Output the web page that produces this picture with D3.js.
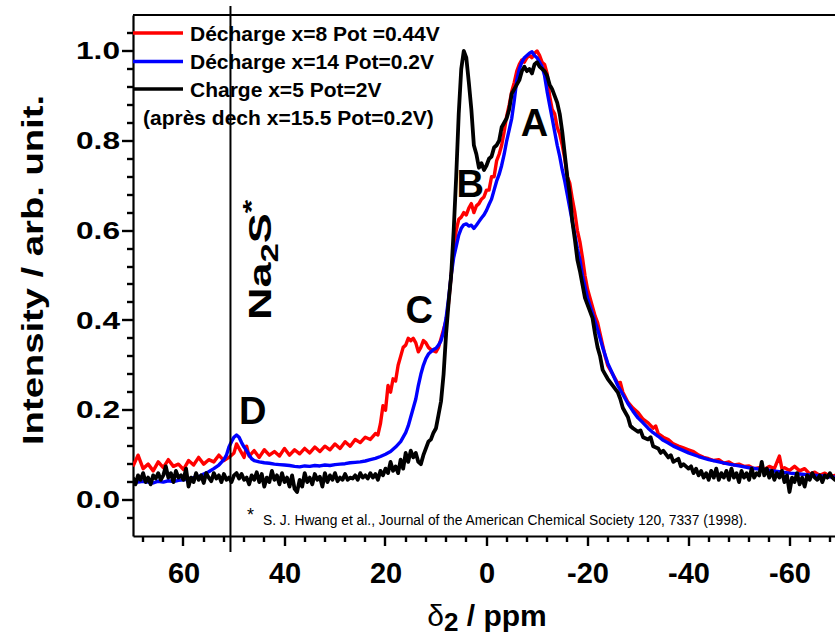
<!DOCTYPE html>
<html><head><meta charset="utf-8">
<script src="https://cdn.jsdelivr.net/npm/d3@7/dist/d3.min.js"></script>
<style>body{margin:0;background:#fff}svg{display:block}text{font-family:"Liberation Sans",Arial,sans-serif}</style>
</head><body><svg id="c" width="835" height="636"></svg>
<script>
const seriesNames = ["Décharge x=8 Pot =0.44V","Décharge x=14 Pot=0.2V","Charge x=5 Pot=2V"];
const legendExtra = "(après dech x=15.5 Pot=0.2V)";
const seriesColors = ["#ff0000","#0000ff","#000000"];
const xMajorTicks = [60,40,20,0,-20,-40,-60];
const yMajorTicks = [0,0.2,0.4,0.6,0.8,1.0];
const peakLabels = [["A",-9.5,0.81],["B",3.2,0.675],["C",13.3,0.395],["D",46.3,0.17]];
const na2sShift = 50.7;

const redData = [[70,0.075],[69,0.10],[68,0.07],[67,0.08],[66,0.065],[65,0.085],[64,0.072],[63,0.09],[62,0.075],[61,0.08],[60,0.068],[59,0.088],[58,0.078],[57,0.095],[56,0.08],[55,0.09],[54,0.085],[53,0.1],[52,0.088],[51,0.095],[50,0.105],[49.5,0.125],[49,0.115],[48,0.095],[47.5,0.12],[47,0.098],[46,0.11],[45,0.095],[44,0.112],[43,0.1],[42,0.108],[41,0.098],[40,0.115],[39,0.1],[38,0.112],[37,0.103],[36,0.115],[35,0.105],[34,0.118],[33,0.108],[32,0.12],[31,0.112],[30,0.125],[29,0.115],[28,0.13],[27,0.12],[26,0.135],[25,0.128],[24,0.14],[23,0.135],[22,0.148],[21.5,0.145],[21,0.17],[20.5,0.21],[20,0.2],[19.5,0.255],[19,0.24],[18.5,0.27],[18,0.265],[17.5,0.3],[17,0.32],[16.5,0.34],[16,0.345],[15.5,0.36],[15,0.355],[14.5,0.36],[14,0.35],[13.5,0.33],[13,0.34],[12.5,0.355],[12,0.35],[11.5,0.34],[11,0.335],[10,0.33],[9.5,0.34],[9,0.36],[8.5,0.38],[8,0.4],[7.5,0.44],[7,0.5],[6.5,0.56],[6,0.6],[5.5,0.625],[5,0.63],[4.5,0.64],[4,0.635],[3.5,0.65],[3,0.66],[2.5,0.64],[2,0.655],[1.5,0.66],[1,0.67],[0.5,0.675],[0,0.69],[-0.5,0.69],[-1,0.72],[-1.5,0.72],[-2,0.755],[-2.5,0.77],[-3,0.79],[-3.5,0.82],[-4,0.855],[-4.5,0.88],[-5,0.91],[-5.5,0.93],[-6,0.955],[-6.5,0.97],[-7,0.98],[-7.5,0.975],[-8,0.985],[-8.5,0.99],[-9,0.985],[-9.5,0.995],[-10,1.0],[-10.5,0.99],[-11,0.975],[-11.5,0.97],[-12,0.95],[-12.5,0.9],[-13,0.87],[-13.5,0.86],[-14,0.83],[-14.5,0.815],[-15,0.79],[-15.5,0.76],[-16,0.72],[-16.5,0.705],[-17,0.67],[-17.5,0.64],[-18,0.6],[-18.5,0.575],[-19,0.54],[-19.5,0.5],[-20,0.47],[-20.5,0.45],[-21,0.43],[-21.5,0.41],[-22,0.395],[-22.5,0.37],[-23,0.345],[-23.5,0.32],[-24,0.3],[-25,0.28],[-26,0.26],[-26.5,0.262],[-27,0.24],[-28,0.218],[-29,0.205],[-30,0.195],[-31,0.18],[-32,0.172],[-33,0.16],[-33.5,0.165],[-34,0.148],[-35,0.14],[-36,0.135],[-37,0.125],[-38,0.12],[-39,0.116],[-40,0.112],[-41,0.108],[-42,0.1],[-43,0.095],[-44,0.092],[-45,0.088],[-46,0.09],[-47,0.082],[-48,0.085],[-49,0.078],[-50,0.08],[-51,0.075],[-52,0.076],[-53,0.07],[-54,0.072],[-55,0.068],[-56,0.075],[-57,0.07],[-58,0.098],[-58.5,0.07],[-59,0.072],[-60,0.066],[-61,0.075],[-62,0.065],[-63,0.07],[-64,0.058],[-65,0.062],[-66,0.055],[-67,0.06],[-68,0.052],[-69,0.055],[-70,0.05]];

const blueData = [[70,0.045],[69,0.04],[68,0.042],[67,0.04],[66,0.038],[65,0.042],[64,0.04],[63,0.043],[62,0.041],[61,0.044],[60,0.045],[59,0.047],[58,0.05],[57,0.052],[56,0.058],[55,0.063],[54,0.07],[53,0.078],[52,0.09],[51.5,0.1],[51,0.118],[50.5,0.13],[50,0.14],[49.5,0.145],[49,0.14],[48.5,0.128],[48,0.118],[47.5,0.11],[47,0.1],[46.5,0.092],[46,0.088],[45,0.085],[44,0.083],[43,0.082],[42,0.08],[41,0.079],[40,0.078],[39,0.077],[38,0.075],[37,0.074],[36,0.076],[35,0.075],[34,0.077],[33,0.076],[32,0.078],[31,0.077],[30,0.079],[29,0.08],[28,0.081],[27,0.083],[26,0.084],[25,0.085],[24,0.087],[23,0.09],[22,0.093],[21,0.097],[20,0.102],[19,0.108],[18,0.118],[17,0.13],[16.5,0.14],[16,0.15],[15.5,0.165],[15,0.185],[14.5,0.205],[14,0.225],[13.5,0.255],[13,0.28],[12.5,0.3],[12,0.315],[11.5,0.325],[11,0.33],[10.5,0.335],[10,0.338],[9.5,0.345],[9,0.355],[8.5,0.375],[8,0.405],[7.5,0.45],[7,0.5],[6.5,0.54],[6,0.565],[5.5,0.59],[5,0.605],[4.5,0.613],[4,0.615],[3.5,0.61],[3,0.612],[2.5,0.605],[2,0.612],[1.5,0.62],[1,0.628],[0.5,0.635],[0,0.645],[-0.5,0.658],[-1,0.67],[-1.5,0.69],[-2,0.71],[-2.5,0.725],[-3,0.745],[-3.5,0.77],[-4,0.8],[-4.5,0.825],[-5,0.85],[-5.5,0.89],[-6,0.935],[-6.5,0.96],[-7,0.975],[-7.5,0.985],[-8,0.99],[-8.5,0.995],[-9,0.998],[-9.5,0.99],[-10,0.985],[-10.5,0.975],[-11,0.965],[-11.5,0.945],[-12,0.91],[-12.5,0.88],[-13,0.85],[-13.5,0.82],[-14,0.79],[-14.5,0.765],[-15,0.735],[-15.5,0.71],[-16,0.68],[-16.5,0.65],[-17,0.62],[-17.5,0.59],[-18,0.56],[-18.5,0.535],[-19,0.5],[-19.5,0.475],[-20,0.45],[-21,0.415],[-22,0.38],[-23,0.34],[-24,0.305],[-25,0.28],[-26,0.255],[-27,0.235],[-28,0.215],[-29,0.198],[-30,0.183],[-31,0.172],[-32,0.16],[-33,0.15],[-34,0.142],[-35,0.133],[-36,0.127],[-37,0.12],[-38,0.115],[-39,0.11],[-40,0.105],[-42,0.097],[-44,0.09],[-46,0.085],[-48,0.08],[-50,0.076],[-52,0.072],[-54,0.069],[-56,0.066],[-58,0.063],[-60,0.06],[-62,0.058],[-64,0.056],[-66,0.054],[-68,0.052],[-70,0.05]];

const blackData = [[70,0.05],[69.5,0.035],[69,0.055],[68.5,0.045],[68,0.06],[67.5,0.04],[67,0.05],[66.5,0.035],[66,0.055],[65.5,0.048],[65,0.06],[64.5,0.045],[64,0.055],[63.5,0.075],[63,0.05],[62.5,0.06],[62,0.04],[61.5,0.065],[61,0.05],[60.5,0.055],[60,0.045],[59.5,0.07],[59,0.03],[58.5,0.05],[58,0.04],[57.5,0.06],[57,0.045],[56.5,0.055],[56,0.038],[55.5,0.06],[55,0.05],[54.5,0.042],[54,0.06],[53.5,0.048],[53,0.055],[52.5,0.04],[52,0.058],[51.5,0.045],[51,0.05],[50.5,0.04],[50,0.055],[49.5,0.06],[49,0.048],[48.5,0.058],[48,0.045],[47.5,0.05],[47,0.035],[46.5,0.055],[46,0.045],[45.5,0.062],[45,0.04],[44.5,0.058],[44,0.03],[43.5,0.05],[43,0.04],[42.5,0.065],[42,0.045],[41.5,0.055],[41,0.035],[40.5,0.06],[40,0.04],[39.5,0.05],[39,0.03],[38.5,0.055],[38,0.025],[37.5,0.018],[37,0.045],[36.5,0.03],[36,0.06],[35.5,0.04],[35,0.05],[34.5,0.035],[34,0.058],[33.5,0.045],[33,0.052],[32.5,0.03],[32,0.06],[31.5,0.04],[31,0.055],[30.5,0.045],[30,0.06],[29.5,0.042],[29,0.05],[28.5,0.045],[28,0.058],[27.5,0.045],[27,0.05],[26.5,0.048],[26,0.055],[25.5,0.045],[25,0.06],[24.5,0.05],[24,0.055],[23.5,0.048],[23,0.06],[22.5,0.05],[22,0.058],[21.5,0.045],[21,0.065],[20.5,0.055],[20,0.07],[19.5,0.06],[19,0.085],[18.5,0.065],[18,0.075],[17.5,0.06],[17,0.09],[16.5,0.07],[16,0.105],[15.5,0.085],[15,0.11],[14.5,0.095],[14,0.105],[13.5,0.085],[13,0.08],[12.5,0.1],[12,0.115],[11.5,0.13],[11,0.135],[10.5,0.15],[10,0.16],[9.5,0.19],[9,0.22],[8.5,0.28],[8,0.37],[7.5,0.44],[7,0.5],[6.5,0.6],[6,0.72],[5.5,0.86],[5,0.96],[4.5,1.0],[4,0.985],[3.5,0.93],[3,0.87],[2.5,0.79],[2,0.77],[1.5,0.74],[1,0.75],[0.5,0.735],[0,0.745],[-0.5,0.76],[-1,0.765],[-1.5,0.785],[-2,0.79],[-2.5,0.8],[-3,0.83],[-3.5,0.84],[-4,0.85],[-4.5,0.87],[-5,0.905],[-5.5,0.915],[-6,0.925],[-6.5,0.935],[-7,0.955],[-7.5,0.965],[-8,0.955],[-8.5,0.96],[-9,0.95],[-9.5,0.97],[-10,0.975],[-10.5,0.965],[-11,0.96],[-11.5,0.955],[-12,0.945],[-12.5,0.925],[-13,0.915],[-13.5,0.9],[-14,0.885],[-14.5,0.86],[-15,0.82],[-15.5,0.77],[-16,0.72],[-16.5,0.68],[-17,0.62],[-17.5,0.58],[-18,0.535],[-18.5,0.51],[-19,0.48],[-19.5,0.45],[-20,0.435],[-20.5,0.42],[-21,0.405],[-21.5,0.37],[-22,0.34],[-22.5,0.32],[-23,0.29],[-23.5,0.28],[-24,0.27],[-25,0.255],[-26,0.24],[-26.5,0.225],[-27,0.205],[-28,0.185],[-28.5,0.165],[-29,0.16],[-30,0.152],[-30.5,0.155],[-31,0.14],[-32,0.135],[-32.5,0.14],[-33,0.12],[-34,0.115],[-34.5,0.105],[-35,0.11],[-36,0.095],[-36.5,0.1],[-37,0.085],[-38,0.092],[-38.5,0.075],[-39,0.08],[-40,0.07],[-40.5,0.075],[-41,0.06],[-41.5,0.07],[-42,0.055],[-42.5,0.065],[-43,0.05],[-43.5,0.06],[-44,0.045],[-44.5,0.065],[-45,0.05],[-45.5,0.07],[-46,0.045],[-46.5,0.06],[-47,0.05],[-47.5,0.065],[-48,0.045],[-48.5,0.07],[-49,0.05],[-49.5,0.06],[-50,0.04],[-50.5,0.065],[-51,0.05],[-51.5,0.06],[-52,0.045],[-52.5,0.07],[-53,0.05],[-53.5,0.06],[-54,0.055],[-54.5,0.085],[-55,0.055],[-55.5,0.07],[-56,0.05],[-56.5,0.065],[-57,0.045],[-57.5,0.06],[-58,0.05],[-58.5,0.065],[-59,0.04],[-59.5,0.055],[-60,0.018],[-60.5,0.05],[-61,0.04],[-61.5,0.06],[-62,0.035],[-62.5,0.05],[-63,0.03],[-63.5,0.055],[-64,0.045],[-64.5,0.06],[-65,0.05],[-65.5,0.045],[-66,0.055],[-66.5,0.04],[-67,0.055],[-67.5,0.05],[-68,0.06],[-68.5,0.05],[-69,0.045],[-70,0.05]];

const allSeries = [redData, blueData, blackData];

const svg = d3.select("#c");
const L = 133, R = 840, T = 15, B = 536;
const x = d3.scaleLinear().domain([70,-70]).range([L,R]);
const y = d3.scaleLinear().domain([-0.08,1.08]).range([B,T]);

svg.append("defs").append("clipPath").attr("id","clip")
  .append("rect").attr("x",L).attr("y",T).attr("width",R-L).attr("height",B-T);

const xMinor = d3.range(68,-69,-4).filter(v => !xMajorTicks.includes(v));
const yMinor = d3.range(-4,105,4).map(v=>v/100).filter(v => !yMajorTicks.some(m=>Math.abs(m-v)<1e-9));

// tick marks drawn from the scales (pixel-snapped)
const px = v => Math.round(x(v)), py = v => Math.round(y(v));
const ticksG = svg.append("g").attr("stroke","#000").attr("stroke-width",2.4);
xMinor.forEach(v=>ticksG.append("line").attr("x1",px(v)).attr("x2",px(v)).attr("y1",B).attr("y2",B+6));
xMajorTicks.forEach(v=>ticksG.append("line").attr("x1",px(v)).attr("x2",px(v)).attr("y1",B).attr("y2",B+10));
yMinor.forEach(v=>ticksG.append("line").attr("x1",L-6).attr("x2",L).attr("y1",py(v)).attr("y2",py(v)));
yMajorTicks.forEach(v=>ticksG.append("line").attr("x1",L-11).attr("x2",L).attr("y1",py(v)).attr("y2",py(v)));

// axes (labels + domain lines)
const gx2 = svg.append("g").attr("transform",`translate(0,${B})`);
gx2.call(d3.axisBottom(x).tickValues(xMajorTicks).tickSize(10).tickSizeOuter(0).tickFormat(d3.format("d")));
gx2.select(".domain").attr("stroke","#000").attr("stroke-width",2.2);
gx2.selectAll(".tick line").remove();
gx2.selectAll(".tick text").attr("y",18).attr("dy","1em").attr("font-size",29).attr("font-weight","bold")
  .attr("font-family","'Liberation Sans',Arial,sans-serif").attr("fill","#000")
  .text(d => d<0 ? "-"+(-d) : d);

const gy2 = svg.append("g").attr("transform",`translate(${L},0)`);
gy2.call(d3.axisLeft(y).tickValues(yMajorTicks).tickSize(11).tickSizeOuter(0).tickFormat(d3.format(".1f")));
gy2.select(".domain").attr("stroke","#000").attr("stroke-width",2.2);
gy2.selectAll(".tick line").remove();
gy2.selectAll(".tick text").attr("x",-13).attr("font-size",24).attr("font-weight","bold")
  .attr("font-family","'Liberation Sans',Arial,sans-serif").attr("fill","#000")
  .attr("textLength",44).attr("lengthAdjust","spacingAndGlyphs");

svg.append("line").attr("x1",L).attr("x2",R).attr("y1",T).attr("y2",T).attr("stroke","#000").attr("stroke-width",2.2);

const line = d3.line().x(d=>x(d[0])).y(d=>y(d[1]));
const plot = svg.append("g").attr("clip-path","url(#clip)");
allSeries.forEach((s,i)=>{
  plot.append("path").datum(s).attr("d",line).attr("fill","none")
    .attr("stroke",seriesColors[i]).attr("stroke-width",i===2?3.8:3.4).attr("stroke-linejoin","round");
});

svg.append("line").attr("x1",x(na2sShift)).attr("x2",x(na2sShift)).attr("y1",6).attr("y2",552)
  .attr("stroke","#000").attr("stroke-width",2);

const legY = [33,61.5,89];
seriesNames.forEach((n,i)=>{
  svg.append("line").attr("x1",L).attr("x2",183).attr("y1",legY[i]).attr("y2",legY[i])
    .attr("stroke",seriesColors[i]).attr("stroke-width",3.5);
  svg.append("text").attr("x",190).attr("y",legY[i]+7.5).attr("font-size",21).attr("font-weight","bold").text(n);
});
svg.append("text").attr("x",143).attr("y",125).attr("font-size",21).attr("font-weight","bold").text(legendExtra);

peakLabels.forEach(p=>{
  svg.append("text").attr("x",x(p[1])).attr("y",y(p[2])).attr("text-anchor","middle")
    .attr("font-size",38).attr("font-weight","bold").text(p[0]);
});

const na = svg.append("text").attr("transform","translate(271,320) rotate(-90) scale(1.45,1)")
  .attr("font-size",31).attr("font-weight","bold");
na.append("tspan").text("Na");
na.append("tspan").attr("dy",7).attr("font-size",24).text("2");
na.append("tspan").attr("dy",-7).text("S");
na.append("tspan").attr("dy",-11).attr("font-size",24).text("*");

svg.append("text").attr("x",247).attr("y",521).attr("font-size",18).text("*");
svg.append("text").attr("x",263).attr("y",525).attr("font-size",14)
  .attr("textLength",484).attr("lengthAdjust","spacingAndGlyphs")
  .text("S. J. Hwang et al., Journal of the American Chemical Society 120, 7337 (1998).");

svg.append("text").attr("transform","translate(43,270) rotate(-90)").attr("text-anchor","middle")
  .attr("font-size",30).attr("font-weight","bold")
  .attr("textLength",350).attr("lengthAdjust","spacingAndGlyphs").text("Intensity / arb. unit.");
const xt = svg.append("text").attr("x",487).attr("y",626).attr("text-anchor","middle")
  .attr("font-size",30).attr("font-weight","bold");
xt.append("tspan").attr("font-weight","normal").text("δ");
xt.append("tspan").attr("dy",5).attr("font-size",26).text("2");
xt.append("tspan").attr("dy",-5).text(" / ppm");
</script></body></html>
